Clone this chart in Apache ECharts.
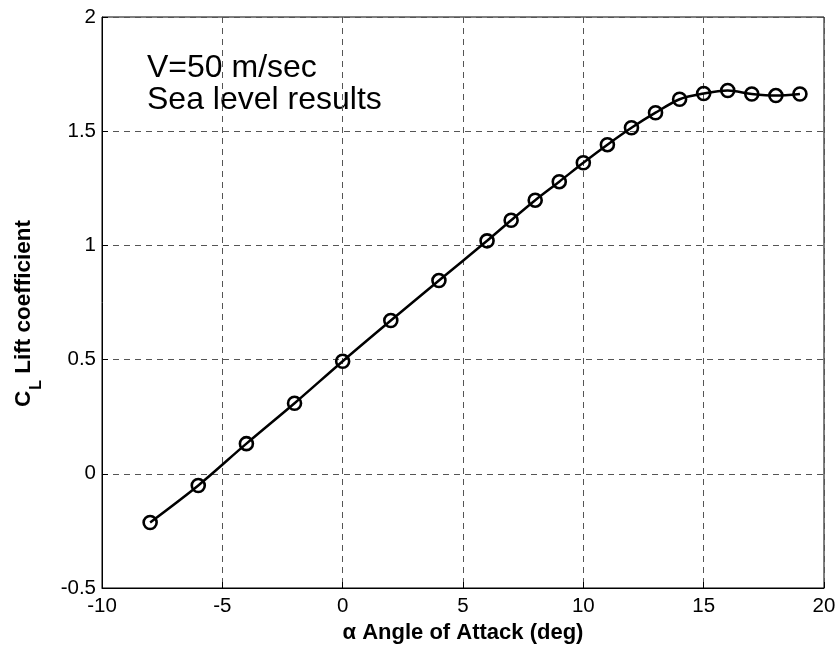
<!DOCTYPE html>
<html>
<head>
<meta charset="utf-8">
<script src="https://cdn.jsdelivr.net/npm/echarts@6/dist/echarts.min.js"></script>
<style>
  html, body { margin: 0; padding: 0; background: #fff; }
  #chart { width: 837px; height: 650px; }
</style>
</head>
<body>
<div id="chart"></div>
<script>
// Data
const alpha = [-8, -6, -4, -2, 0, 2, 4, 6, 7, 8, 9, 10, 11, 12, 13, 14, 15, 16, 17, 18, 19];
const liftCoeff = [-0.213, -0.051, 0.132, 0.309, 0.493, 0.671, 0.846, 1.020, 1.110, 1.198, 1.279, 1.362, 1.441, 1.515, 1.581, 1.640, 1.665, 1.678, 1.663, 1.656, 1.663];
const xTicks = { min: -10, max: 20, interval: 5 };
const yTicks = { min: -0.5, max: 2, interval: 0.5 };
const annotation = ['V=50 m/sec', 'Sea level results'];
const xTitle = '\u03b1 Angle of Attack (deg)';
const yTitleMain = 'C';
const yTitleSub = 'L';
const yTitleRest = ' Lift coefficient';

const chart = echarts.init(document.getElementById('chart'), null, { renderer: 'canvas' });
const FONT = '"Liberation Sans", Arial, Helvetica, sans-serif';

const gridLine = { show: true, lineStyle: { color: '#555', width: 1, type: [6, 5] } };

chart.setOption({
  backgroundColor: '#fff',
  animation: false,
  grid: { left: 102, right: 13, top: 17, bottom: 62, containLabel: false, outerBoundsMode: 'none', show: true, borderColor: '#000', borderWidth: 1, backgroundColor: 'transparent' },
  xAxis: {
    type: 'value',
    min: xTicks.min, max: xTicks.max, interval: xTicks.interval,
    axisLine: { show: true, onZero: false, lineStyle: { color: '#000', width: 1 } },
    axisTick: { show: true, inside: true, length: 6, lineStyle: { color: '#000' } },
    axisLabel: { color: '#000', fontFamily: FONT, fontSize: 20.5, margin: 8 },
    splitLine: gridLine,
    name: xTitle,
    nameLocation: 'middle',
    nameGap: 31,
    nameTextStyle: { color: '#000', fontFamily: FONT, fontSize: 22, fontWeight: 'bold' }
  },
  yAxis: {
    type: 'value',
    min: yTicks.min, max: yTicks.max, interval: yTicks.interval,
    axisLine: { show: true, onZero: false, lineStyle: { color: '#000', width: 1 } },
    axisTick: { show: true, inside: true, length: 6, lineStyle: { color: '#000' } },
    axisLabel: { color: '#000', fontFamily: FONT, fontSize: 20.5, margin: 6 },
    splitLine: gridLine,
    name: '{c|' + yTitleMain + '}{s|' + yTitleSub + '}{c|' + yTitleRest + '}',
    nameLocation: 'middle',
    nameGap: 57,
    nameRotate: 90,
    nameTextStyle: {
      color: '#000', fontFamily: FONT, fontSize: 22.5, fontWeight: 'bold',
      padding: [0, 22, 0, 0],
      rich: {
        c: { fontFamily: FONT, fontSize: 22.5, fontWeight: 'bold', color: '#000', verticalAlign: 'top' },
        s: { fontFamily: FONT, fontSize: 16, fontWeight: 'bold', color: '#000', lineHeight: 33, verticalAlign: 'bottom', padding: [0, 0, 0, 1] }
      }
    }
  },
  graphic: [{
    type: 'text',
    left: 147,
    top: 52,
    style: {
      text: annotation.join('\n'),
      fontFamily: FONT,
      fontSize: 32,
      lineHeight: 32,
      fill: '#000'
    }
  }],
  series: [{
    type: 'line',
    data: alpha.map((a, i) => [a, liftCoeff[i]]),
    smooth: 0.3,
    symbol: 'circle',
    symbolSize: 13,
    showAllSymbol: true,
    lineStyle: { color: '#000', width: 2.5 },
    itemStyle: { color: 'rgba(255,255,255,0)', borderColor: '#000', borderWidth: 2.6 },
    emphasis: { disabled: true },
    z: 3
  }]
});
</script>
</body>
</html>
